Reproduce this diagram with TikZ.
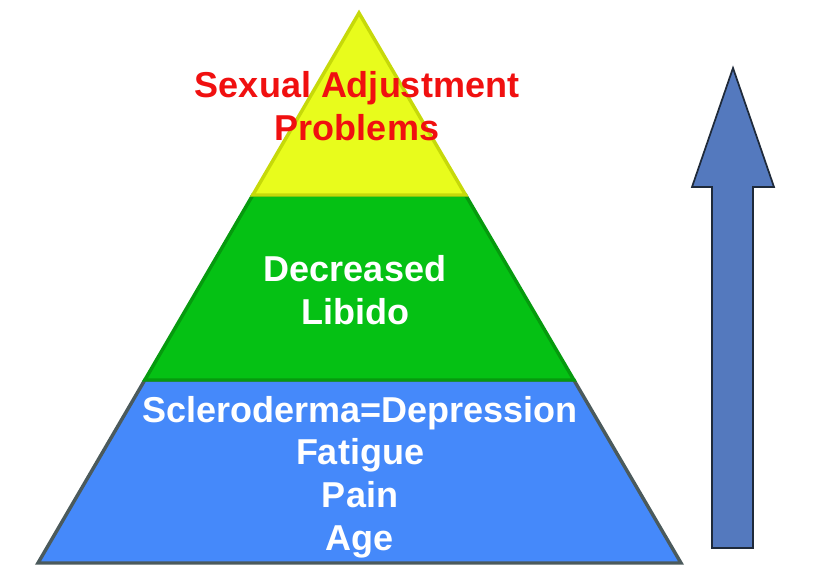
\documentclass[tikz,border=0pt]{standalone}
\usepackage{fontspec}
\setmainfont{Liberation Sans}
\begin{document}
\begin{tikzpicture}[x=0.75pt,y=-0.75pt,
  lbl/.style={font=\bfseries\fontsize{27}{32}\selectfont,align=center,inner sep=0pt,anchor=center},
  layer/.style={line width=2.6pt,line join=miter}]
\definecolor{yelfill}{HTML}{E8FC1C}
\definecolor{yelline}{HTML}{C6D90A}
\definecolor{grnfill}{HTML}{05C114}
\definecolor{grnline}{HTML}{069A0E}
\definecolor{blufill}{HTML}{4589FA}
\definecolor{bluline}{HTML}{4B5A5C}
\definecolor{arrfill}{HTML}{5479BE}
\definecolor{arrline}{HTML}{1F2A3A}
\definecolor{txtred}{HTML}{F01010}
\useasboundingbox (0,0) rectangle (816,579);
% pyramid coordinates
\coordinate (apex) at (359,13);
\coordinate (yl) at (252.8,195);
\coordinate (yr) at (465.6,195);
\coordinate (gl) at (144.8,380);
\coordinate (gr) at (573.9,380);
\coordinate (bl) at (38,563);
\coordinate (br) at (681,563);
% layers
\draw[layer,fill=blufill,draw=bluline] (gl) -- (gr) -- (br) -- (bl) -- cycle;
\draw[layer,fill=grnfill,draw=grnline] (yl) -- (yr) -- (gr) -- (gl) -- cycle;
\draw[layer,fill=yelfill,draw=yelline] (apex) -- (yr) -- (yl) -- cycle;
% arrow
\draw[line width=1.3pt,fill=arrfill,draw=arrline,line join=miter]
  (733,68) -- (774,187) -- (753,187) -- (753,548) -- (712,548) -- (712,187) -- (692,187) -- cycle;
% texts
\node[lbl,text=txtred] (top) at (357,106) {Sexual Adjustment\\Problems};
\node[lbl,text=white] (mid) at (355,290) {Decreased\\Libido};
\node[lbl,text=white] (bot) at (360,477) {Scleroderma=Depression\\Fatigue\\Pain\\Age};
\end{tikzpicture}
\end{document}
